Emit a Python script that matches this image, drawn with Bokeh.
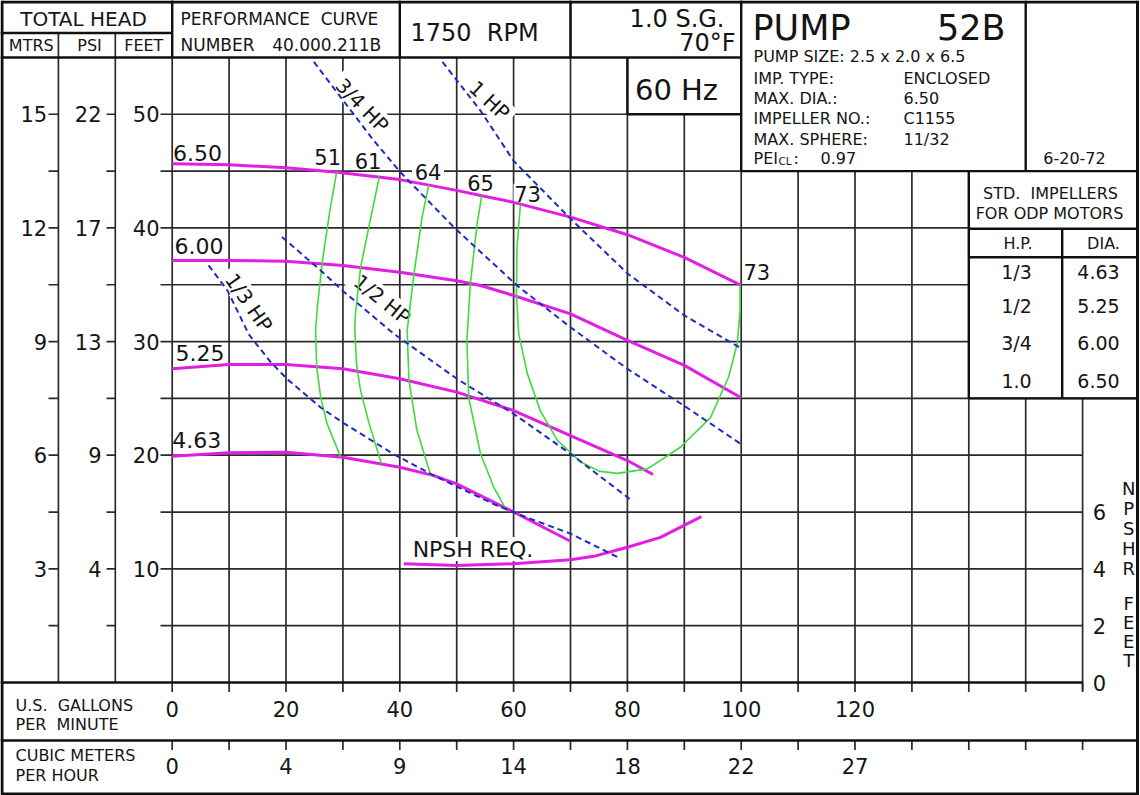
from bokeh.plotting import figure
from bokeh.models import Range1d
from bokeh.core.properties import value
from bokeh.embed import file_html
from bokeh.resources import INLINE

# ---------------- data ----------------
grid_gpm = [0, 10, 20, 30, 40, 50, 60, 70, 80, 90, 100, 110, 120, 130, 140, 150, 160]
grid_ft = [5, 10, 15, 20, 25, 30, 35, 40, 45, 50]
gpm_ticks = [0, 20, 40, 60, 80, 100, 120]
gpm_labels = ["0", "20", "40", "60", "80", "100", "120"]
cmh_labels = ["0", "4", "9", "14", "18", "22", "27"]
feet_ticks = [10, 20, 30, 40, 50]
feet_labels = ["10", "20", "30", "40", "50"]
psi_labels = ["4", "9", "13", "17", "22"]
mtrs_labels = ["3", "6", "9", "12", "15"]
npsh_ticks = [0, 2, 4, 6]
npsh_tick_labels = ["0", "2", "4", "6"]

# impeller head curves (GPM, feet)
imp_650_q = [0, 10, 20, 29, 40, 50, 54.2, 60, 70, 80, 90, 100]
imp_650_h = [45.65, 45.55, 45.3, 44.9, 44.25, 43.3, 42.85, 42.25, 40.95, 39.4, 37.4, 34.95]
imp_600_q = [0, 10, 20, 30, 40, 50, 54.2, 60, 70, 80, 90, 100]
imp_600_h = [37.13, 37.13, 37.07, 36.7, 36.1, 35.35, 34.93, 34.05, 32.44, 30.1, 27.9, 25.05]
imp_525_q = [0, 10, 20, 30, 40, 50, 60, 70, 80, 84.5]
imp_525_h = [27.6, 27.98, 27.98, 27.6, 26.72, 25.55, 23.93, 21.73, 19.53, 18.3]
imp_463_q = [0, 10, 20, 30, 40, 46, 50, 60, 70]
imp_463_h = [19.91, 20.21, 20.26, 19.82, 18.94, 18.2, 17.48, 15.0, 12.43]

# NPSH required (GPM, NPSH feet)
npsh_q = [40.7, 50, 60, 70, 74.1, 80, 85.8, 93]
npsh_v = [4.18, 4.12, 4.18, 4.32, 4.44, 4.76, 5.11, 5.84]

# efficiency curves (GPM, feet)
eff_51_q = [28.9, 27.8, 26.4, 25.5, 25.2, 25.4, 26.1, 27.2, 29.6]
eff_51_h = [44.9, 41.8, 37.1, 33.0, 31.0, 27.7, 25.1, 22.8, 19.85]
eff_61_q = [36.4, 34.9, 33.1, 32.2, 32.1, 32.4, 33.1, 34.6, 36.8]
eff_61_h = [44.5, 40.9, 36.5, 32.4, 31.0, 28.0, 25.7, 22.8, 19.2]
eff_64_q = [45.1, 43.9, 42.5, 41.3, 41.6, 43.0, 45.5]
eff_64_h = [43.8, 40.9, 36.0, 31.0, 26.6, 22.2, 18.15]
eff_65_q = [54.4, 53.6, 52.4, 51.8, 52.1, 54.2, 56.5, 58.7]
eff_65_h = [42.85, 40.4, 35.1, 30.1, 25.1, 20.1, 17.2, 15.2]
eff_73_q = [61.2, 60.6, 60.5, 60.9, 62.4, 64.7, 67.7, 71.8, 75.0, 78.2, 83.5, 86.0, 89.3, 94.6, 97.8, 99.3, 99.8, 99.8]
eff_73_h = [42.05, 38.3, 34.2, 30.7, 27.2, 23.9, 21.3, 19.4, 18.6, 18.4, 18.8, 19.6, 20.7, 23.3, 26.9, 29.8, 32.7, 34.95]

# motor power limit lines (GPM, feet)
hp_1_q = [47.5, 54.2, 60, 70, 80, 90, 100]
hp_1_h = [54.6, 50.3, 45.9, 40.8, 36.0, 32.3, 29.4]
hp_34_q = [24.9, 35.4, 40.1, 49.5, 60.6, 70.0, 80.0, 89.9, 99.9]
hp_34_h = [54.6, 47.7, 44.9, 40.06, 34.93, 31.26, 27.6, 24.37, 21.0]
hp_12_q = [19.3, 26.1, 29.9, 38.9, 50.1, 60, 70, 80.8]
hp_12_h = [39.2, 36.25, 34.5, 30.7, 26.7, 23.64, 20.12, 16.0]
hp_13_q = [6.4, 9.7, 13.5, 17.3, 20.2, 26.1, 30.2, 38.9, 46, 56.5, 62.4, 70, 78.8]
hp_13_h = [36.7, 34.5, 30.6, 28.2, 26.7, 24.2, 22.8, 20.1, 18.2, 15.7, 14.5, 13.1, 10.9]

std_hp = ["1/3", "1/2", "3/4", "1.0"]
std_dia = ["4.63", "5.25", "6.00", "6.50"]

# ---------------- layout / scales ----------------
GX0, GXS, GY0, GYS = 171.7, 5.69, 682.0, 11.365


def PX(px):
    return (px - GX0) / GXS


def PY(py):
    return (GY0 - py) / GYS


X0, X1 = PX(0), PX(1140)
Y0, Y1 = PY(795), PY(0)
NPSH_SCALE = 2.5
SP = "\u00a0"

p = figure(width=1140, height=795, x_range=Range1d(X0, X1), y_range=Range1d(Y0, Y1),
           output_backend="svg", toolbar_location=None, min_border=0,
           x_axis_location=None, y_axis_location=None)
p.extra_y_ranges = {"npsh": Range1d(Y0 / NPSH_SCALE, Y1 / NPSH_SCALE)}
p.grid.visible = False
p.outline_line_color = None
p.background_fill_color = "white"
p.border_fill_color = "white"

FONT = value("DejaVu Sans")
GRID_C = "#2a2a2a"
BOX_C = "#111111"
MAG = "#e31ee3"
GRN = "#3ddc3d"
BLU = "#1f2dbf"
TXT = "#141414"

# --- grid lines ---
vx0, vy0, vx1, vy1 = [], [], [], []
for q in grid_gpm:
    if q in (0, 40, 70, 100):
        top = Y1
    elif q <= 80:
        top = 55
    elif q == 90:
        top = 50
    elif q <= 140:
        top = 45
    else:
        top = 25
    bot = PY(690) if q == 160 else 0
    vx0.append(q); vx1.append(q); vy0.append(bot); vy1.append(top)
for q in (-20, -10):
    vx0.append(q); vx1.append(q); vy0.append(0); vy1.append(PY(32.5))
p.segment(vx0, vy0, vx1, vy1, line_color=GRID_C, line_width=1.7)

hx0, hy0, hx1, hy1 = [], [], [], []
for f in grid_ft:
    if f <= 20:
        right = 160
    elif f == 25:
        right = PX(1137)
    elif f <= 40:
        right = 140
    elif f == 45:
        right = PX(1137)
    else:
        right = 100
    hx0.append(PX(160)); hx1.append(right); hy0.append(f); hy1.append(f)
    hx0 += [PX(48), PX(106)]; hx1 += [-20, -10]; hy0 += [f, f]; hy1 += [f, f]
p.segment(hx0, hy0, hx1, hy1, line_color=GRID_C, line_width=1.7)

bx0 = grid_gpm + grid_gpm
by0 = [0] * len(grid_gpm) + [PY(740)] * len(grid_gpm)
by1 = [PY(691.5)] * len(grid_gpm) + [PY(749.5)] * len(grid_gpm)
p.segment(bx0, by0, bx0, by1, line_color=GRID_C, line_width=1.7)

# --- box / table lines ---
sx0, sy0, sx1, sy1 = [], [], [], []


def seg(a, b, c, d):
    sx0.append(a); sy0.append(b); sx1.append(c); sy1.append(d)


R = PX(1137)
seg(X0, 55, 100, 55)
seg(X0, PY(32.5), 0, PY(32.5))
seg(80, 50, 80, 55)
seg(80, 50, 100, 50)
seg(100, 45, 100, Y1)
seg(100, 45, R, 45)
seg(150, 45, 150, Y1)
seg(140, 25, 140, 45)
seg(140, 25, R, 25)
seg(140, PY(228.3), R, PY(228.3))
seg(140, PY(256.7), R, PY(256.7))
seg(PX(1061.7), 25, PX(1061.7), PY(228.3))
seg(X0, 0, 160, 0)
seg(X0, PY(740), R, PY(740))
seg(0, 55, 0, Y1)
seg(40, 55, 40, Y1)
seg(70, 55, 70, Y1)
p.segment(sx0, sy0, sx1, sy1, line_color=BOX_C, line_width=2.4)

p.segment([PX(1.5), PX(1.5), PX(1.5), R], [PY(1.5), PY(793.5), Y0, Y0],
          [R, R, PX(1.5), R], [PY(1.5), PY(793.5), Y1, Y1],
          line_color=BOX_C, line_width=3)

# --- white patches behind labels that interrupt the grid ---
mask_x = [PX(361.7), PX(489), PX(381.7), PX(248.3), PX(427.5), PX(527), PX(472.5)]
mask_y = [PY(105), PY(100), PY(299), PY(302), PY(171), PY(193.3), PY(548.5)]
mask_w = [76, 56, 78, 78, 32, 28, 128]
mask_h = [24, 24, 24, 24, 22, 20, 24]
mask_a = [-46, -43, -39, -55, 0, 0, 0]
p.rect(x=mask_x, y=mask_y, width=mask_w, height=mask_h, width_units="screen",
       height_units="screen", angle=mask_a, angle_units="deg",
       fill_color="white", line_color=None)


def T(x, y, s, size, align="left", baseline="middle", angle=0.0, **kw):
    p.text(x=[x], y=[y], text=[s], text_font=FONT, text_font_size=f"{size}px",
           text_align=align, text_baseline=baseline, angle=angle, angle_units="deg",
           text_color=TXT, **kw)


T(PX(361.7), PY(105), "3/4 HP", 20, align="center", angle=-46)
T(PX(489), PY(100), "1 HP", 20, align="center", angle=-43)
T(PX(381.7), PY(299), "1/2 HP", 20, align="center", angle=-39)
T(PX(248.3), PY(302), "1/3 HP", 20, align="center", angle=-55)
T(PX(427.5), PY(171), "64", 21, align="center")
T(PX(527), PY(193.3), "73", 21, align="center")
T(PX(472.5), PY(548.5), "NPSH REQ.", 22, align="center")

# --- curves ---
for q, h in [(imp_650_q, imp_650_h), (imp_600_q, imp_600_h),
             (imp_525_q, imp_525_h), (imp_463_q, imp_463_h)]:
    p.line(q, h, line_color=MAG, line_width=3, line_join="round")
p.line(npsh_q, npsh_v, y_range_name="npsh", line_color=MAG, line_width=3, line_join="round")

for q, h in [(eff_51_q, eff_51_h), (eff_61_q, eff_61_h), (eff_64_q, eff_64_h),
             (eff_65_q, eff_65_h), (eff_73_q, eff_73_h)]:
    p.line(q, h, line_color=GRN, line_width=1.6, line_join="round")

for q, h in [(hp_1_q, hp_1_h), (hp_34_q, hp_34_h), (hp_12_q, hp_12_h), (hp_13_q, hp_13_h)]:
    p.line(q, h, line_color=BLU, line_width=2, line_dash="6 4")

# --- curve labels ---
T(PX(172.5), PY(152), "6.50", 22)
T(PX(174), PY(245.5), "6.00", 22)
T(PX(175), PY(352), "5.25", 22)
T(PX(171.7), PY(439), "4.63", 22)
T(PX(327.2), PY(156.7), "51", 21, align="center")
T(PX(367.5), PY(160), "61", 21, align="center")
T(PX(480), PY(182.7), "65", 21, align="center")
T(PX(743), PY(271.7), "73", 21)

# --- left axes ---
for f, a, b, c in zip(feet_ticks, mtrs_labels, psi_labels, feet_labels):
    T(PX(46.7), f, a, 21, align="right")
    T(PX(101), f, b, 21, align="right")
    T(PX(159), f, c, 21, align="right")

# --- bottom axes ---
for q, a, b in zip(gpm_ticks, gpm_labels, cmh_labels):
    T(q, PY(708.3), a, 21, align="center")
    T(q, PY(765), b, 21, align="center")
T(PX(15), PY(704.5), "U.S." + SP + SP + "GALLONS", 16)
T(PX(15), PY(724.3), "PER" + SP + SP + "MINUTE", 16)
T(PX(15), PY(755), "CUBIC METERS", 16)
T(PX(15), PY(775), "PER HOUR", 16)

# --- NPSHR axis ---
for v, s in zip(npsh_ticks, npsh_tick_labels):
    T(PX(1099), v, s, 21, align="center", y_range_name="npsh")
for i, ch in enumerate("NPSHR"):
    T(PX(1128.3), PY(488 + 20 * i), ch, 18, align="center")
for i, ch in enumerate("FEET"):
    T(PX(1128.3), PY(603 + 19 * i), ch, 18, align="center")

# --- header ---
T(PX(83), PY(18), "TOTAL HEAD", 20, align="center")
T(PX(30.8), PY(44.5), "MTRS", 16, align="center")
T(PX(89), PY(44.5), "PSI", 16, align="center")
T(PX(143.3), PY(44.5), "FEET", 16, align="center")
T(PX(180), PY(18), "PERFORMANCE" + SP + SP + "CURVE", 17)
T(PX(180), PY(44.5), "NUMBER", 17)
T(PX(271.7), PY(44.5), "40.000.211B", 17)
T(PX(474), PY(32), "1750" + SP + SP + "RPM", 24, align="center")
T(PX(724), PY(18.3), "1.0 S.G.", 24, align="right")
T(PX(735), PY(42.5), "70°F", 24, align="right")
T(PX(676), PY(89), "60 Hz", 29, align="center")

# --- pump info box ---
T(PX(752), PY(27), "PUMP", 35)
T(PX(1005), PY(27), "52B", 35, align="right")
info_keys = ["PUMP SIZE: 2.5 x 2.0 x 6.5", "IMP. TYPE:", "MAX. DIA.:", "IMPELLER NO.:", "MAX. SPHERE:"]
info_vals = ["", "ENCLOSED", "6.50", "C1155", "11/32"]
info_y = [55.8, 77.5, 97.5, 118.3, 138.8]
for k, v, yy in zip(info_keys, info_vals, info_y):
    T(PX(753), PY(yy), k, 16)
    if v:
        T(PX(903), PY(yy), v, 16)
T(PX(753), PY(157.5), "PEI", 16)
T(PX(778), PY(160.5), "CL", 10.5)
T(PX(793), PY(157.5), ":", 16)
T(PX(820), PY(157.5), "0.97", 16)
T(PX(1074), PY(157.5), "6-20-72", 16, align="center")

# --- std impeller table ---
T(PX(1050), PY(192.5), "STD." + SP + SP + "IMPELLERS", 16, align="center")
T(PX(1049), PY(212.5), "FOR ODP MOTORS", 16, align="center")
T(PX(1017.5), PY(242.5), "H.P.", 16, align="center")
T(PX(1103), PY(242.5), "DIA.", 16, align="center")
for hp_s, dia_s, yy in zip(std_hp, std_dia, [271.7, 305, 342, 380]):
    T(PX(1016), PY(yy), hp_s, 19, align="center")
    T(PX(1098), PY(yy), dia_s, 19, align="center")

open("out.html", "w").write(file_html(p, INLINE))
